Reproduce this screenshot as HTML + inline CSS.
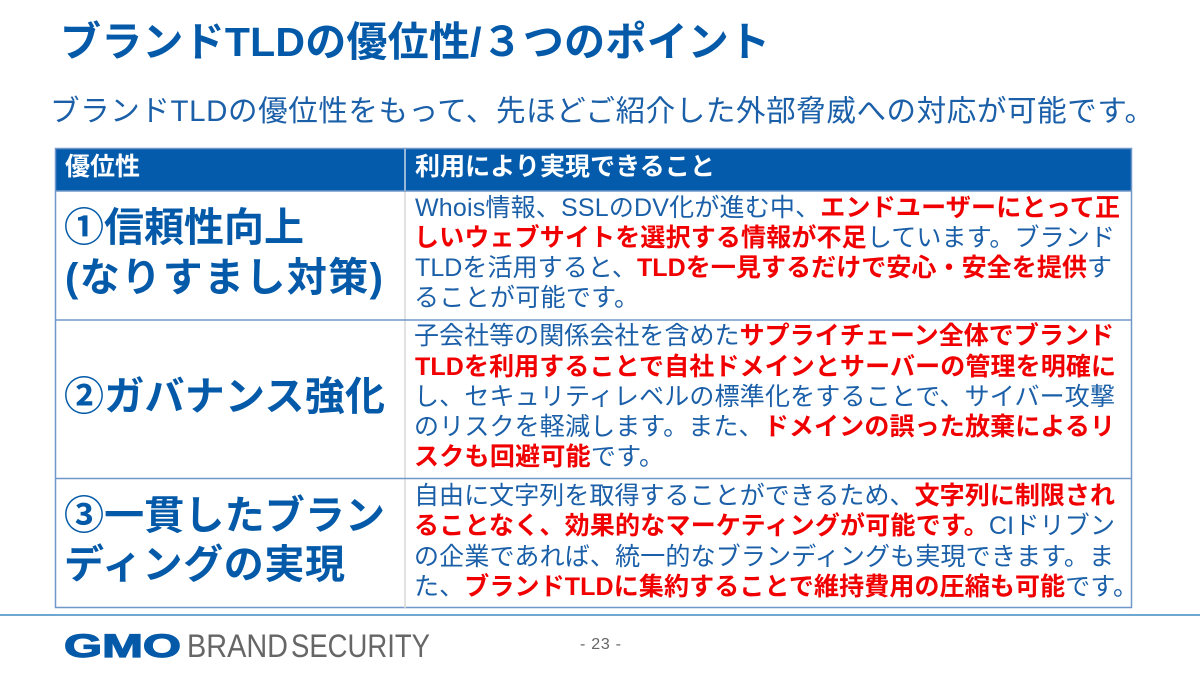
<!DOCTYPE html>
<html lang="ja"><head><meta charset="utf-8"><style>
html,body{margin:0;padding:0;background:#fff;width:1200px;height:675px;overflow:hidden}
svg{display:block}
text{font-family:"Liberation Sans","Noto Sans CJK JP",sans-serif;fill:#1a5fa8;white-space:pre}
.c{font-size:25px}
.r{font-weight:700;fill:#f00000}
.h{font-size:25px;font-weight:700;fill:#fff}
.l{font-size:40px;font-weight:700;fill:#045aa8}
</style></head><body>
<svg width="1200" height="675" viewBox="0 0 1200 675" xmlns="http://www.w3.org/2000/svg">
<text x="60" y="56" font-size="41" font-weight="700" style="fill:#045aa8" textLength="710" lengthAdjust="spacing">ブランドTLDの優位性/３つのポイント</text>
<text x="50" y="121" font-size="29.500" textLength="1104" lengthAdjust="spacing">ブランドTLDの優位性をもって、先ほどご紹介した外部脅威への対応が可能です。</text>

<rect x="55" y="149" width="1077" height="42" fill="#045bab"/>
<rect x="55.5" y="148.5" width="1076" height="459" fill="none" stroke="#7097c8" stroke-width="1.5"/>
<line x1="405" y1="149" x2="405" y2="191" stroke="#c8d6e8" stroke-width="1.5"/>
<line x1="405" y1="191" x2="405" y2="608" stroke="#d9d9d9" stroke-width="1.5"/>
<line x1="55" y1="191" x2="1132" y2="191" stroke="#7097c8" stroke-width="1.5"/>
<line x1="55" y1="320" x2="1132" y2="320" stroke="#7097c8" stroke-width="1.5"/>
<line x1="55" y1="478.500" x2="1132" y2="478.500" stroke="#7097c8" stroke-width="1.5"/>

<text class="h" x="65" y="175" textLength="75" lengthAdjust="spacing">優位性</text>
<text class="h" x="415" y="175" textLength="300" lengthAdjust="spacing">利用により実現できること</text>

<text class="l" x="64" y="241" textLength="240" lengthAdjust="spacing">①信頼性向上</text>
<text class="l" x="65" y="291" textLength="318" lengthAdjust="spacing">(なりすまし対策)</text>
<text class="l" x="64" y="410" textLength="321" lengthAdjust="spacing">②ガバナンス強化</text>
<text class="l" x="64" y="529" textLength="321" lengthAdjust="spacing">③一貫したブラン</text>
<text class="l" x="64" y="578" textLength="281" lengthAdjust="spacing">ディングの実現</text>

<text class="c" x="415" y="216" textLength="705" lengthAdjust="spacing">Whois情報、SSLのDV化が進む中、<tspan class="r">エンドユーザーにとって正</tspan></text>
<text class="c" x="414" y="246" textLength="701" lengthAdjust="spacing"><tspan class="r">しいウェブサイトを選択する情報が不足</tspan>しています。ブランド</text>
<text class="c" x="415" y="276" textLength="697" lengthAdjust="spacing">TLDを活用すると、<tspan class="r">TLDを一見するだけで安心・安全を提供</tspan>す</text>
<text class="c" x="414" y="306" textLength="225" lengthAdjust="spacing">ることが可能です。</text>

<text class="c" x="414" y="344" textLength="700" lengthAdjust="spacing">子会社等の関係会社を含めた<tspan class="r">サプライチェーン全体でブランド</tspan></text>
<text class="c" x="415" y="375" textLength="701" lengthAdjust="spacing"><tspan class="r">TLDを利用することで自社ドメインとサーバーの管理を明確に</tspan></text>
<text class="c" x="414" y="405" textLength="701" lengthAdjust="spacing">し、セキュリティレベルの標準化をすることで、サイバー攻撃</text>
<text class="c" x="414" y="435" textLength="701" lengthAdjust="spacing">のリスクを軽減します。また、<tspan class="r">ドメインの誤った放棄によるリ</tspan></text>
<text class="c" x="414" y="465" textLength="250" lengthAdjust="spacing"><tspan class="r">スクも回避可能</tspan>です。</text>

<text class="c" x="414" y="504" textLength="701" lengthAdjust="spacing">自由に文字列を取得することができるため、<tspan class="r">文字列に制限され</tspan></text>
<text class="c" x="414" y="534" textLength="701" lengthAdjust="spacing"><tspan class="r">ることなく、効果的なマーケティングが可能です。</tspan>CIドリブン</text>
<text class="c" x="414" y="565" textLength="700" lengthAdjust="spacing">の企業であれば、統一的なブランディングも実現できます。ま</text>
<text class="c" x="414" y="595" textLength="724" lengthAdjust="spacing">た、<tspan class="r">ブランドTLDに集約することで維持費用の圧縮も可能</tspan>です。</text>

<line x1="0" y1="615" x2="1200" y2="615" stroke="#3d8ac4" stroke-width="1.5"/>
<text x="64" y="657" font-size="32" font-weight="700" style="fill:#045aa8;stroke:#045aa8;stroke-width:1.2" textLength="117" lengthAdjust="spacingAndGlyphs">GMO</text>
<text x="187" y="657" font-size="32" style="fill:#666" textLength="101" lengthAdjust="spacingAndGlyphs">BRAND</text>
<text x="291" y="657" font-size="32" style="fill:#666" textLength="139" lengthAdjust="spacingAndGlyphs">SECURITY</text>
<text x="580" y="649" font-size="16" style="fill:#666" textLength="41" lengthAdjust="spacing">- 23 -</text>
</svg>
</body></html>
